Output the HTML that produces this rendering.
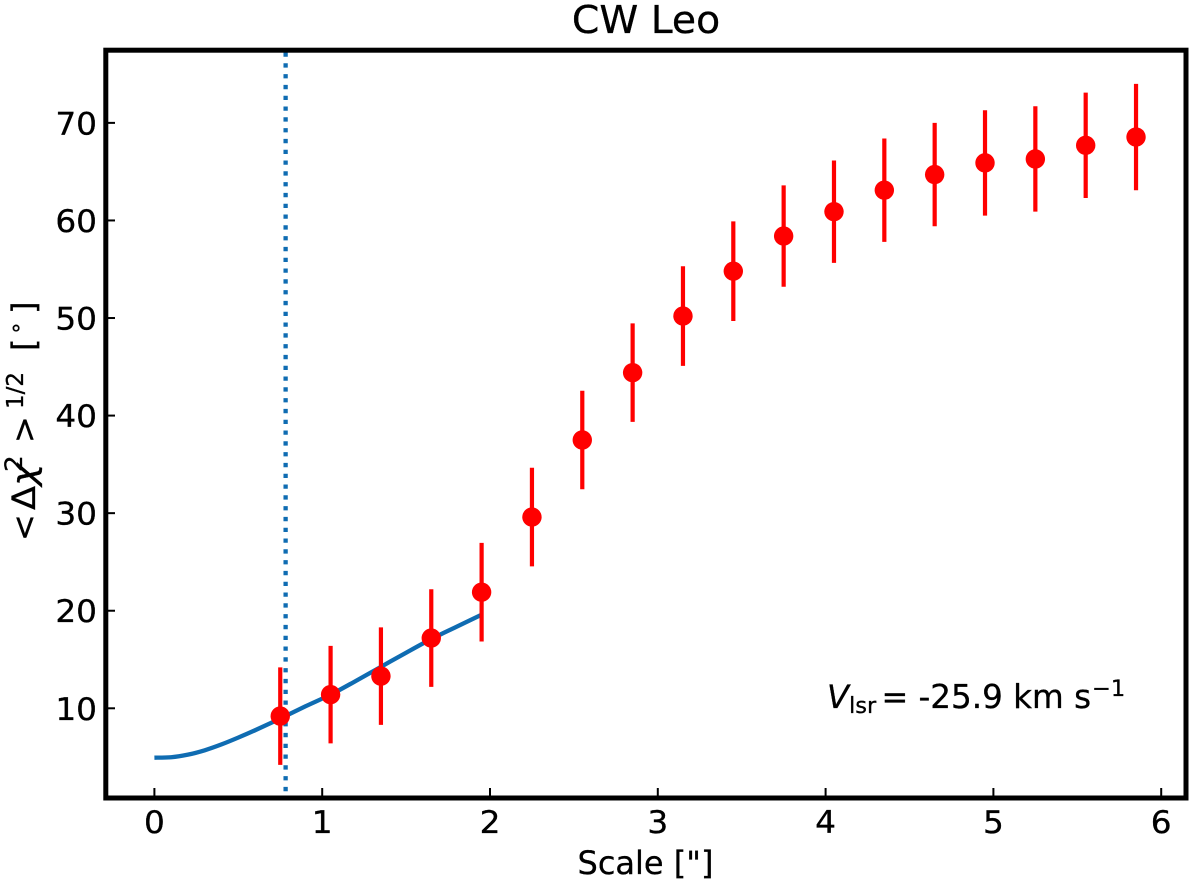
<!DOCTYPE html>
<html lang="en">
<head>
<meta charset="utf-8">
<title>CW Leo</title>
<style>
html,body{margin:0;padding:0;background:#fff;width:1200px;height:882px;overflow:hidden}
svg{display:block}
text{font-family:"DejaVu Sans",sans-serif;fill:#000;stroke:#000;stroke-width:0.3}
</style>
</head>
<body>
<svg id="chart" xmlns="http://www.w3.org/2000/svg" width="1200" height="882" viewBox="0 0 1200 882">
  <rect x="0" y="0" width="1200" height="882" fill="#fff"/>
  <text transform="translate(646,33) scale(1.035,1)" font-size="38" text-anchor="middle">CW Leo</text>
  <text x="645.5" y="874" font-size="32" text-anchor="middle">Scale ["]</text>
  <g id="marks"></g>
  <rect x="105.8" y="50.2" width="1080.2" height="747.8" fill="none" stroke="#000" stroke-width="5"/>
  <g id="ticks"></g>
  <g>
    <text transform="translate(35,541) rotate(-90)" font-size="32">&lt;</text>
    <text transform="translate(35,510) rotate(-90) scale(1.1,1)" font-size="32">Δ</text>
    <text transform="translate(35,486) rotate(-90) scale(1.15,1)" font-size="33" font-style="italic">χ</text>
    <text transform="translate(22,472) rotate(-90) scale(1.1,1)" font-size="24">2</text>
    <text transform="translate(35,443) rotate(-90)" font-size="32">&gt;</text>
    <text transform="translate(23,409) rotate(-90)" font-size="23">1/2</text>
    <text transform="translate(35,351) rotate(-90)" font-size="32">[</text>
    <text transform="translate(23,335) rotate(-90)" font-size="22">∘</text>
    <text transform="translate(35,314) rotate(-90)" font-size="32">]</text>
  </g>
  <g>
    <text x="827" y="708" font-size="32" font-style="italic">V</text>
    <text x="849" y="713" font-size="22.5">lsr</text>
    <text x="881.5" y="708" font-size="32">=</text>
    <text x="918.5" y="708" font-size="32.6">-25.9 km s</text>
    <text x="1092" y="696" font-size="22.5">−1</text>
  </g>
</svg>
<script>
var scaleValues = [0.75,1.05,1.35,1.65,1.95,2.25,2.55,2.85,3.15,3.45,3.75,4.05,4.35,4.65,4.95,5.25,5.55,5.85];
var dispersionValues = [9.2,11.4,13.3,17.2,21.9,29.6,37.5,44.4,50.2,54.8,58.4,60.9,63.1,64.7,65.9,66.3,67.7,68.55];
var errorValues = [5.0,5.0,5.0,5.0,5.05,5.05,5.05,5.05,5.1,5.1,5.2,5.25,5.3,5.3,5.4,5.4,5.4,5.45];
var fitScale = [0,0.1,0.2,0.3,0.4,0.5,0.6,0.75,0.9,1.05,1.2,1.35,1.5,1.65,1.8,1.95];
var fitValues = [4.94,4.98,5.25,5.7,6.3,7.0,7.75,8.95,10.2,11.4,12.8,14.25,15.7,17.1,18.35,19.6];
var beamScale = 0.782;
var xTickValues = [0,1,2,3,4,5,6];
var yTickValues = [10,20,30,40,50,60,70];

var NS = 'http://www.w3.org/2000/svg';
var plotTop = 52.5, plotBottom = 795.5;
function xScale(v){ return 154.4 + v * 167.8; }
function yScale(v){ return 708.3 - (v - 10) * 9.757; }
function make(tag, attrs, parent){
  var el = document.createElementNS(NS, tag);
  Object.keys(attrs).forEach(function(k){ el.setAttribute(k, attrs[k]); });
  parent.appendChild(el);
  return el;
}
function smoothPath(px, py){
  var d = 'M' + px[0].toFixed(2) + ' ' + py[0].toFixed(2);
  for (var i = 0; i < px.length - 1; i++) {
    var a = Math.max(i - 1, 0), b = Math.min(i + 2, px.length - 1);
    var c1x = px[i] + (px[i + 1] - px[a]) / 6;
    var c1y = py[i] + (py[i + 1] - py[a]) / 6;
    var c2x = px[i + 1] - (px[b] - px[i]) / 6;
    var c2y = py[i + 1] - (py[b] - py[i]) / 6;
    d += 'C' + c1x.toFixed(2) + ' ' + c1y.toFixed(2) + ' ' + c2x.toFixed(2) + ' ' + c2y.toFixed(2) + ' ' + px[i + 1].toFixed(2) + ' ' + py[i + 1].toFixed(2);
  }
  return d;
}
var marks = document.getElementById('marks');
var ticks = document.getElementById('ticks');

var beam = make('line', {x1:xScale(beamScale), x2:xScale(beamScale), y1:plotTop, y2:plotBottom, stroke:'#0f6cb2', 'stroke-width':4.3, 'stroke-dasharray':'4.3 6.5'}, marks);



var fit = make('path', {d:smoothPath(fitScale.map(xScale), fitValues.map(yScale)), fill:'none', stroke:'#0f6cb2', 'stroke-width':4.3, 'stroke-linejoin':'round'}, marks);



scaleValues.forEach(function(x, i){
  var bar = make('line', {x1:xScale(x), x2:xScale(x), y1:yScale(dispersionValues[i] + errorValues[i]), y2:yScale(dispersionValues[i] - errorValues[i]), stroke:'#ff0000', 'stroke-width':4.2}, marks);
  
  
});
scaleValues.forEach(function(x, i){
  var dot = make('circle', {cx:xScale(x), cy:yScale(dispersionValues[i]), r:9.7, fill:'#ff0000'}, marks);
  
  
});

xTickValues.forEach(function(v){
  var mark = make('line', {x1:xScale(v), x2:xScale(v), y1:788, y2:796, stroke:'#000', 'stroke-width':2}, ticks);
  
  
  var label = make('text', {transform:'translate(' + xScale(v) + ',833) scale(1.04,1)', 'font-size':31.5, 'text-anchor':'middle'}, ticks);
  
  
  label.textContent = v;
});
yTickValues.forEach(function(v){
  var mark = make('line', {x1:107, x2:115, y1:yScale(v), y2:yScale(v), stroke:'#000', 'stroke-width':2}, ticks);
  
  
  var label = make('text', {transform:'translate(97,' + (yScale(v) + 11.5) + ') scale(1.04,1)', 'font-size':31.5, 'text-anchor':'end'}, ticks);
  
  
  label.textContent = v;
});
</script>
</body>
</html>
